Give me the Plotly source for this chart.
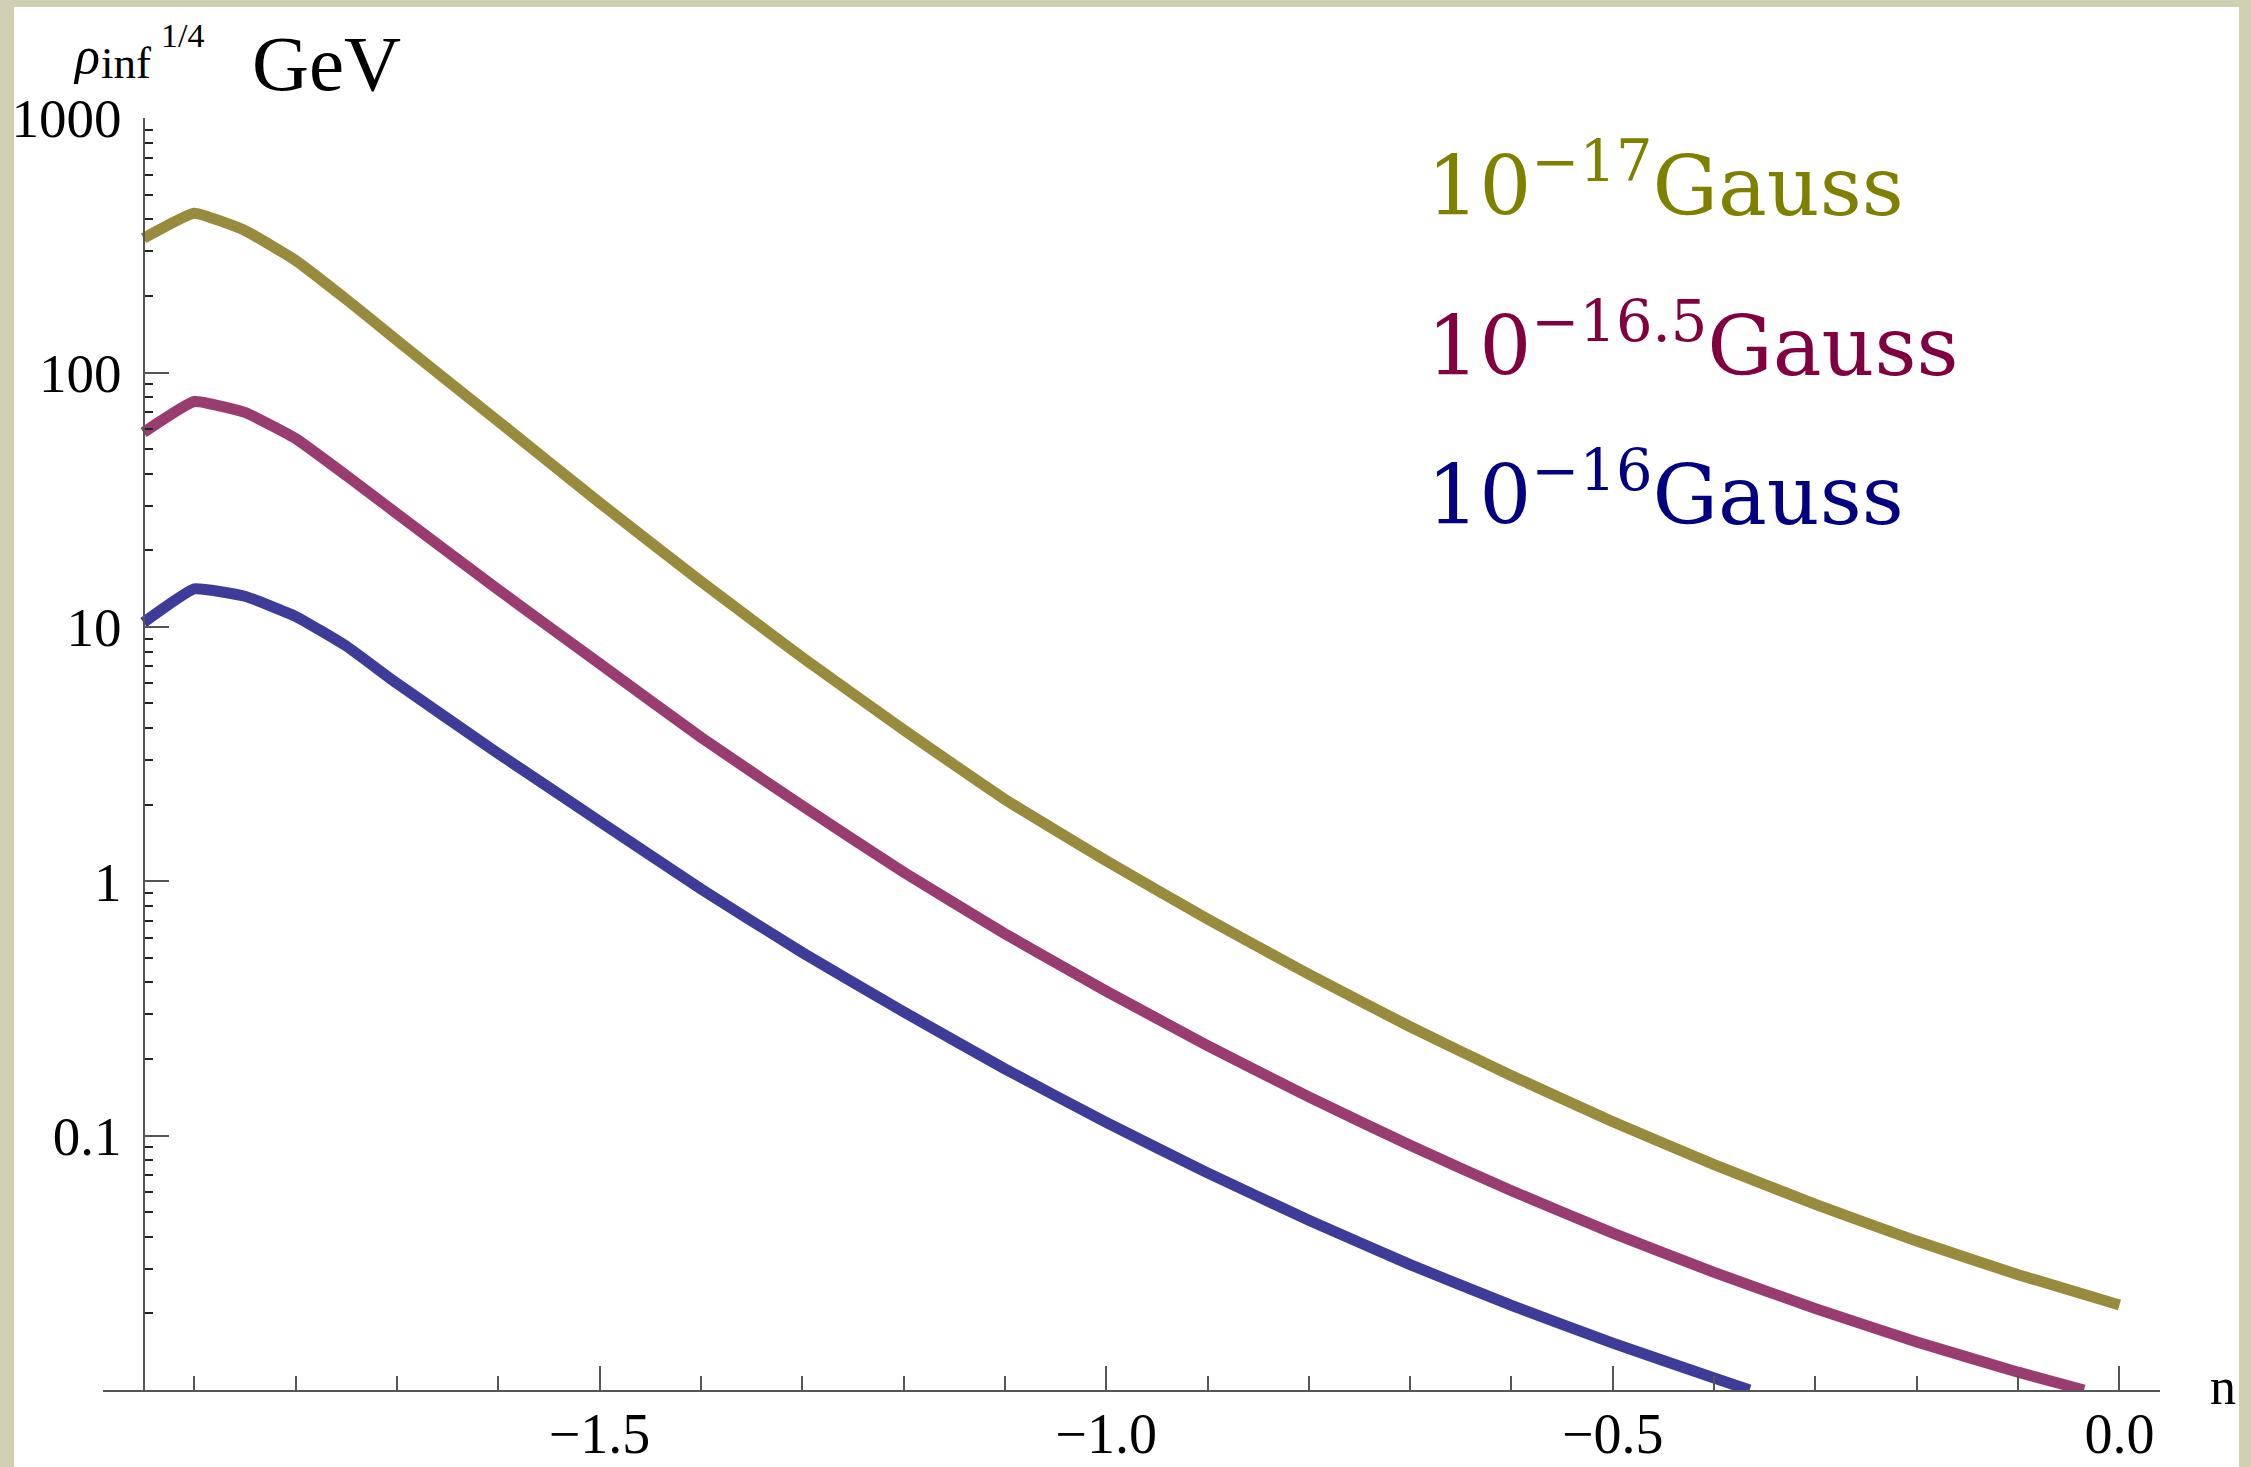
import plotly.graph_objects as go

# ---------------- data ----------------
n_gold = [-1.95, -1.9, -1.85, -1.8, -1.75, -1.7, -1.6, -1.5, -1.4, -1.3, -1.2, -1.1,
          -1.0, -0.9, -0.8, -0.7, -0.6, -0.5, -0.4, -0.3, -0.2, -0.1, 0.0]
rho_gold = [337, 423, 362, 276, 194, 134, 64.3, 30.8, 15.1, 7.59, 3.94, 2.10,
            1.205, 0.710, 0.431, 0.268, 0.172, 0.1135, 0.0769, 0.0537, 0.0385, 0.0284, 0.0216]

n_purple = [-1.95, -1.9, -1.85, -1.8, -1.75, -1.7, -1.6, -1.5, -1.4, -1.3, -1.2, -1.1,
            -1.0, -0.9, -0.8, -0.7, -0.6, -0.5, -0.4, -0.3, -0.2, -0.1, -0.035]
rho_purple = [58.1, 76.9, 69.7, 55.0, 39.4, 27.9, 14.0, 7.18, 3.68, 1.98, 1.086, 0.622,
              0.370, 0.226, 0.142, 0.0916, 0.0607, 0.0414, 0.0290, 0.0209, 0.01545, 0.01175, 0.0100]

n_blue = [-1.95, -1.9, -1.85, -1.8, -1.75, -1.7, -1.6, -1.5, -1.4, -1.3, -1.2, -1.1,
          -1.0, -0.9, -0.8, -0.7, -0.6, -0.5, -0.4, -0.365]
rho_blue = [10.4, 14.1, 13.2, 11.0, 8.41, 6.0, 3.18, 1.72, 0.933, 0.525, 0.307, 0.183,
            0.1127, 0.0714, 0.0465, 0.0311, 0.0215, 0.01528, 0.01114, 0.0100]

y_tick_vals = [0.1, 1, 10, 100, 1000]
y_tick_text = ["0.1", "1", "10", "100", "1000"]
y_minor_vals = [m * 10.0 ** e for e in range(-2, 3) for m in range(2, 10)]

labels = ["10<sup>\u221217</sup>Gauss", "10<sup>\u221216.5</sup>Gauss", "10<sup>\u221216</sup>Gauss"]
label_colors = ["#808000", "#800040", "#000080"]
line_colors = ["#998B3D", "#993D71", "#3D3D99"]

# ---------------- geometry ----------------
W, H = 2251, 1467
L, R, T, B = 103, 91, 118, 77
PW, PH = W - L - R, H - T - B
X_RANGE = [-1.99, 0.04]


def fx(px):
    return (px - L) / PW


def fy(py):
    return (H - B - py) / PH


fig = go.Figure()
for xs, ys, col in [(n_gold, rho_gold, line_colors[0]),
                    (n_purple, rho_purple, line_colors[1]),
                    (n_blue, rho_blue, line_colors[2])]:
    fig.add_trace(go.Scatter(x=xs, y=ys, mode="lines",
                             line=dict(color=col, width=11, shape="spline", smoothing=0.35),
                             showlegend=False, hoverinfo="skip"))

axis_col = "#555555"
serif = "Liberation Serif"

fig.update_layout(
    width=W, height=H,
    margin=dict(l=L, r=R, t=T, b=B, pad=0, autoexpand=False),
    paper_bgcolor="#cfcfb2",
    plot_bgcolor="white",
    showlegend=False,
    xaxis=dict(
        range=X_RANGE, showgrid=False, zeroline=False, automargin=False,
        showline=True, linecolor=axis_col, linewidth=2,
        ticks="inside", ticklen=24, tickwidth=2, tickcolor=axis_col,
        tick0=0, dtick=0.5, tickformat=".1f",
        minor=dict(ticks="inside", ticklen=14, tickwidth=2, tickcolor=axis_col,
                   tick0=0, dtick=0.1, showgrid=False),
        tickfont=dict(family=serif, size=56, color="black"),
        ticklabelstandoff=-6,
    ),
    yaxis=dict(
        type="log", range=[-2, 3.0005], showgrid=False, zeroline=False, automargin=False,
        anchor="free", position=(-1.95 - X_RANGE[0]) / (X_RANGE[1] - X_RANGE[0]),
        showline=True, linecolor=axis_col, linewidth=2,
        ticks="inside", ticklen=24, tickwidth=2, tickcolor=axis_col,
        tickmode="array", tickvals=y_tick_vals, ticktext=y_tick_text,
        minor=dict(tickmode="array", tickvals=y_minor_vals, ticks="inside",
                   ticklen=8, tickwidth=2, tickcolor="#222222", showgrid=False),
        tickfont=dict(family=serif, size=55, color="black"),
        ticklabelstandoff=10,
    ),
)

# white page over the beige paper colour
fig.add_shape(type="rect", xref="paper", yref="paper",
              x0=fx(14), x1=fx(2239), y0=fy(1480), y1=fy(7),
              fillcolor="white", line=dict(width=0), layer="below")

ann = []
# axis title at top-left
ann.append(dict(text="\u03c1", x=fx(86), y=fy(56), xanchor="center", yanchor="middle",
                font=dict(family=serif, size=52, color="black", style="italic")))
ann.append(dict(text="inf", x=fx(99), y=fy(63), xanchor="left", yanchor="middle",
                font=dict(family=serif, size=45, color="black")))
ann.append(dict(text="1/4", x=fx(159), y=fy(35), xanchor="left", yanchor="middle",
                font=dict(family=serif, size=34, color="black")))
ann.append(dict(text="GeV", x=fx(250), y=fy(64), xanchor="left", yanchor="middle",
                font=dict(family=serif, size=79, color="black")))
# x axis label
ann.append(dict(text="n", x=fx(2223), y=fy(1386), xanchor="center", yanchor="middle",
                font=dict(family=serif, size=52, color="black")))
# curve labels
for txt, col, yc in zip(labels, label_colors, [181, 341, 490]):
    ann.append(dict(text=txt, x=fx(1425), y=fy(yc), xanchor="left", yanchor="middle",
                    font=dict(family="DejaVu Serif", size=82, color=col)))

for a in ann:
    a.update(xref="paper", yref="paper", showarrow=False)
fig.update_layout(annotations=ann)

fig.write_html("out.html",
               config={"displayModeBar": False},
               post_script="document.body.style.margin='0px';"
                           "document.body.style.overflow='hidden';")
